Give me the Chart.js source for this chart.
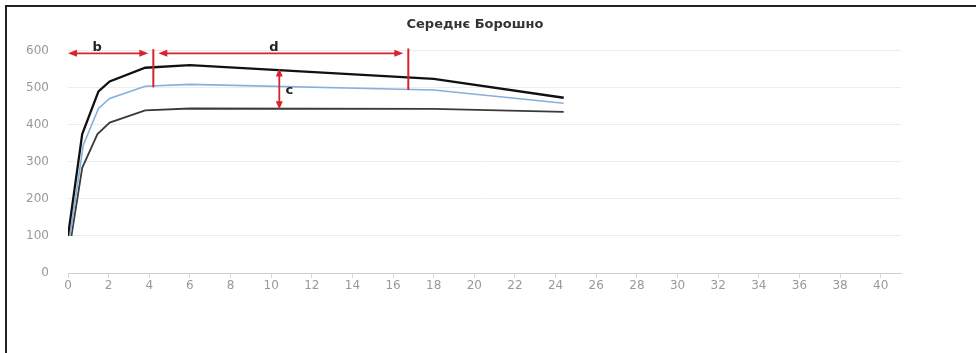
<!DOCTYPE html>
<html>
<head>
<meta charset="utf-8">
<script src="https://cdn.jsdelivr.net/npm/chart.js@4"></script>
<style>
  html, body { margin: 0; padding: 0; background: #fff; }
  #wrap { position: relative; width: 976px; height: 353px; }
  #frame { position: absolute; left: 5px; top: 5px; right: -10px; bottom: -10px;
           border-top: 2px solid #222; border-left: 2px solid #222; pointer-events: none; }
</style>
</head>
<body>
<div id="wrap">
  <canvas id="flour-chart" width="976" height="353"></canvas>
  <div id="frame"></div>
</div>
<script>
// strain (%) and stress values for each curve
var strainTop = [0.0, 0.7, 1.5, 2.05, 3.8, 6.0, 18.0, 24.4];
var stressTop = [100, 375, 490, 517, 554, 561, 524, 473];

var strainMid = [0.1, 0.75, 1.5, 2.05, 3.8, 6.0, 18.0, 24.4];
var stressMid = [100, 345, 444, 471, 504, 509, 494, 458];

var strainLow = [0.17, 0.7, 1.45, 2.05, 3.8, 6.0, 18.0, 24.4];
var stressLow = [100, 284, 375, 406, 439, 444, 443, 435];

var xTicks = [0, 2, 4, 6, 8, 10, 12, 14, 16, 18, 20, 22, 24, 26, 28, 30, 32, 34, 36, 38, 40];

// dimension markers: b and d along the top, c between curves
var arrowY = 593;
var bRange = [0, 4.2];
var dRange = [4.2, 16.75];
var bTick = [501, 604];
var dTick = [494, 606];
var cX = 10.4;
var cRange = [442, 552];

function pts(xs, ys) {
  return xs.map(function (x, i) { return { x: x, y: ys[i] }; });
}

var red = "#d7232b";

function arrowHead(ctx, x, y, dir, vertical) {
  ctx.beginPath();
  if (vertical) {
    ctx.moveTo(x, y);
    ctx.lineTo(x - 3.5, y - dir * 8);
    ctx.lineTo(x + 3.5, y - dir * 8);
  } else {
    ctx.moveTo(x, y);
    ctx.lineTo(x - dir * 9, y - 3.5);
    ctx.lineTo(x - dir * 9, y + 3.5);
  }
  ctx.closePath();
  ctx.fill();
}

var markers = {
  id: "markers",
  afterDatasetsDraw: function (chart) {
    var ctx = chart.ctx, sx = chart.scales.x, sy = chart.scales.y;
    ctx.save();
    ctx.strokeStyle = red;
    ctx.fillStyle = red;
    ctx.lineWidth = 1.8;

    var ay = sy.getPixelForValue(arrowY);

    // b arrow
    var b0 = sx.getPixelForValue(bRange[0]), b1 = sx.getPixelForValue(bRange[1]) - 5;
    ctx.beginPath(); ctx.moveTo(b0 + 4, ay); ctx.lineTo(b1 - 4, ay); ctx.stroke();
    arrowHead(ctx, b0, ay, -1, false);
    arrowHead(ctx, b1, ay, 1, false);

    // d arrow
    var d0 = sx.getPixelForValue(dRange[0]) + 5, d1 = sx.getPixelForValue(dRange[1]) - 5;
    ctx.beginPath(); ctx.moveTo(d0 + 4, ay); ctx.lineTo(d1 - 4, ay); ctx.stroke();
    arrowHead(ctx, d0, ay, -1, false);
    arrowHead(ctx, d1, ay, 1, false);

    // vertical limit lines
    ctx.lineWidth = 2;
    var bx = sx.getPixelForValue(bRange[1]);
    ctx.beginPath(); ctx.moveTo(bx, sy.getPixelForValue(bTick[1])); ctx.lineTo(bx, sy.getPixelForValue(bTick[0])); ctx.stroke();
    var dx = sx.getPixelForValue(dRange[1]);
    ctx.beginPath(); ctx.moveTo(dx, sy.getPixelForValue(dTick[1])); ctx.lineTo(dx, sy.getPixelForValue(dTick[0])); ctx.stroke();

    // c arrow
    ctx.lineWidth = 1.8;
    var cx = sx.getPixelForValue(cX);
    var c0 = sy.getPixelForValue(cRange[1]), c1 = sy.getPixelForValue(cRange[0]);
    ctx.beginPath(); ctx.moveTo(cx, c0 + 4); ctx.lineTo(cx, c1 - 4); ctx.stroke();
    arrowHead(ctx, cx, c0, -1, true);
    arrowHead(ctx, cx, c1, 1, true);

    // letters
    ctx.fillStyle = "#222";
    ctx.font = "bold 13px 'DejaVu Sans'";
    ctx.textAlign = "center";
    ctx.textBaseline = "middle";
    ctx.fillText("b", (b0 + b1) / 2 - 11, ay - 6);
    ctx.fillText("d", (d0 + d1) / 2 - 7, ay - 6);
    ctx.fillText("c", cx + 10, (c0 + c1) / 2 + 2);
    ctx.restore();
  }
};

var ctx = document.getElementById("flour-chart");

var flourChart = new Chart(ctx, {
  type: "line",
  data: {
    datasets: [
      {
        label: "max",
        data: pts(strainTop, stressTop),
        borderColor: "#111",
        borderWidth: 2.3,
      },
      {
        label: "avg",
        data: pts(strainMid, stressMid),
        borderColor: "#86afdb",
        borderWidth: 1.6,
      },
      {
        label: "min",
        data: pts(strainLow, stressLow),
        borderColor: "#3a3a3a",
        borderWidth: 1.8,
      },
    ],
  },
  options: {
    responsive: false,
    animation: false,
    layout: { padding: { left: 49, right: 75, top: 0, bottom: 50 } },
    elements: { point: { radius: 0 }, line: { tension: 0 } },
    plugins: {
      legend: { display: false },
      tooltip: { enabled: false },
      title: {
        display: true,
        text: "Середнє Борошно",
        color: "#333",
        font: { family: "'DejaVu Sans'", size: 13, weight: "bold" },
        padding: { top: 16.7, bottom: 18.4 },
      },
    },
    scales: {
      x: {
        type: "linear",
        min: 0,
        max: 41,
        afterBuildTicks: function (scale) {
          scale.ticks = xTicks.map(function (v) { return { value: v }; });
        },
        afterFit: function (scale) { scale.height = 30; },
        grid: { drawOnChartArea: false, drawTicks: true, tickLength: 5, color: "#d8d8d8" },
        border: { display: true, color: "#d0d0d0" },
        ticks: {
          color: "#999",
          padding: 1,
          maxRotation: 0,
          autoSkip: false,
          font: { family: "'DejaVu Sans'", size: 12 },
        },
      },
      y: {
        min: 0,
        max: 600,
        afterFit: function (scale) { scale.width = 19; },
        grid: { color: "#ececec", drawTicks: false },
        border: { display: false },
        ticks: {
          stepSize: 100,
          color: "#999",
          // labels sit left of the axis box, right-aligned
          mirror: true,
          crossAlign: "far",
          padding: -42,
          font: { family: "'DejaVu Sans'", size: 12 },
        },
      },
    },
  },
  plugins: [markers],
});
</script>
</body>
</html>
